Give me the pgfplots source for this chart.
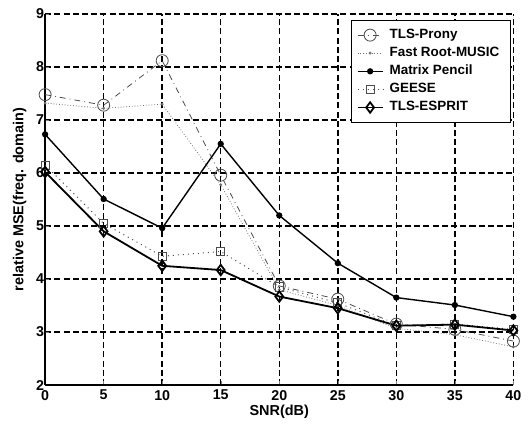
\documentclass[border=0pt]{standalone}
\usepackage{fontspec}
\setmainfont{Liberation Sans}
\usepackage{pgfplots}
\pgfplotsset{compat=1.18}

\begin{document}
\begin{tikzpicture}
\begin{axis}[
  name=ax,
  scale only axis,
  width=233.5pt, height=185pt,
  xmin=0, xmax=40, ymin=2, ymax=9,
  xtick={0,5,...,40}, ytick={2,3,...,9},
  axis x line*=bottom, axis y line*=left,
  axis line style={-, line width=0.8pt},
  grid=major,
  grid style={dash pattern=on 3pt off 1.6pt, black, line width=0.7pt},
  tick align=inside, major tick length=2pt,
  /pgf/number format/assume math mode=true,
  ticklabel style={font=\bfseries\fontsize{7.1}{8}\selectfont},
  xticklabel style={yshift=1pt},
  yticklabel style={xshift=3pt},
  xlabel={SNR(dB)}, ylabel={relative MSE(freq. domain)},
  label style={font=\bfseries\fontsize{7.2}{8}\selectfont},
  xlabel style={yshift=4.5pt},
  ylabel style={yshift=-2pt},
  legend style={at={(0.995,0.985)}, anchor=north east,
    font=\bfseries\fontsize{6.7}{7.5}\selectfont, draw=black, line width=0.7pt,
    inner xsep=2.5pt, inner ysep=2.3pt, row sep=-1.2pt,
    nodes={inner xsep=3pt}},
  legend cell align=left,
  legend image code/.code={\draw[mark repeat=2,mark phase=2]
    plot coordinates {(0cm,0cm)(0.22cm,0cm)(0.44cm,0cm)};},
]
% TLS-Prony
\addplot[black!70, dashdotted, line width=0.4pt, mark=o, mark size=3pt,
  mark options={solid}]
  coordinates {(0,7.48)(5,7.28)(10,8.12)(15,5.96)(20,3.87)(25,3.62)(30,3.15)(35,3.05)(40,2.83)};
% Fast Root-MUSIC
\addplot[black!55, densely dotted, line width=0.4pt, mark=*, mark size=0.5pt,
  mark options={solid}]
  coordinates {(0,7.32)(5,7.22)(10,7.30)(15,5.78)(20,3.80)(25,3.50)(30,3.07)(35,2.95)(40,2.72)};
% Matrix Pencil
\addplot[black, solid, line width=0.7pt, mark=*, mark size=1.2pt]
  coordinates {(0,6.73)(5,5.51)(10,4.96)(15,6.55)(20,5.20)(25,4.30)(30,3.65)(35,3.51)(40,3.29)};
% GEESE
\addplot[black!70, dotted, line width=0.5pt, mark=square, mark size=2pt,
  mark options={solid}]
  coordinates {(0,6.15)(5,5.05)(10,4.43)(15,4.52)(20,3.85)(25,3.55)(30,3.12)(35,3.15)(40,3.05)};
% TLS-ESPRIT
\addplot[black, solid, line width=0.9pt, mark=diamond, mark size=2.6pt]
  coordinates {(0,6.02)(5,4.90)(10,4.25)(15,4.17)(20,3.67)(25,3.45)(30,3.12)(35,3.14)(40,3.03)};
\legend{TLS-Prony, Fast Root-MUSIC, Matrix Pencil, GEESE, TLS-ESPRIT}
\end{axis}
% page margins as in the reference
\path (ax.south west) ++(-22.5pt,0) (ax.north west) ++(0,7pt);
\end{tikzpicture}
\end{document}
